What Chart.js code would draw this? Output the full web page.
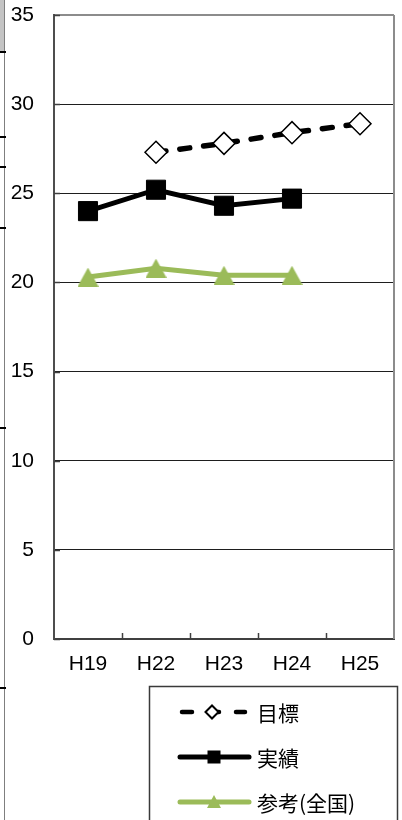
<!DOCTYPE html>
<html>
<head>
<meta charset="utf-8">
<script src="https://cdn.jsdelivr.net/npm/chart.js@4/dist/chart.umd.min.js"></script>
<style>
  html, body { margin: 0; padding: 0; background: #fff; }
  canvas { display: block; }
</style>
</head>
<body>
<canvas id="chart" width="402" height="820"></canvas>
<script>
// Categories (fiscal years) and series values
const categories = ['H19', 'H22', 'H23', 'H24', 'H25'];
const targetValues = [null, 27.3, 27.8, 28.4, 28.9];   // 目標
const actualValues = [24.0, 25.2, 24.3, 24.7, null];   // 実績
const nationalValues = [20.3, 20.8, 20.4, 20.4, null]; // 参考(全国)
const seriesNames = ['目標', '実績', '参考(全国)'];
const yTickValues = [0, 5, 10, 15, 20, 25, 30, 35];

const GREEN = '#9bbb59';
const LATIN_FONT = "'Liberation Sans', Arial, sans-serif";
const CJK_FONT = "'Noto Sans CJK JP', 'Liberation Sans', sans-serif";

// Triangle marker whose bounding box is centred on the data point
function triangleMarker(w, h, color) {
  const c = document.createElement('canvas');
  c.width = w; c.height = h;
  const g = c.getContext('2d');
  g.fillStyle = color;
  g.beginPath();
  g.moveTo(w / 2, 0);
  g.lineTo(w, h);
  g.lineTo(0, h);
  g.closePath();
  g.fill();
  return c;
}

// Thin strip along the left page edge with its small tick marks
const pageEdge = {
  id: 'pageEdge',
  beforeDraw(chart) {
    const ctx = chart.ctx;
    ctx.save();
    ctx.fillStyle = '#c4c4c4';
    ctx.fillRect(0, 0, 4, 52);
    ctx.strokeStyle = '#7f7f7f';
    ctx.lineWidth = 1;
    ctx.beginPath();
    ctx.moveTo(4.5, 0);
    ctx.lineTo(4.5, 820);
    ctx.stroke();
    ctx.strokeStyle = '#000';
    ctx.lineWidth = 2;
    [52, 137, 167, 228, 428, 688].forEach(y => {
      ctx.beginPath();
      ctx.moveTo(0, y);
      ctx.lineTo(6, y);
      ctx.stroke();
    });
    ctx.restore();
  }
};

// Plot frame: right border and inward tick marks on both axes
const plotFrame = {
  id: 'plotFrame',
  beforeDatasetsDraw(chart) {
    const { ctx, chartArea: a, scales } = chart;
    ctx.save();
    ctx.strokeStyle = '#8c8c8c';
    ctx.lineWidth = 2;
    ctx.beginPath();
    ctx.moveTo(a.right, a.top);
    ctx.lineTo(a.right, a.bottom);
    ctx.stroke();

    ctx.strokeStyle = '#404040';
    ctx.lineWidth = 1.5;
    yTickValues.forEach(v => {
      const y = Math.round(scales.y.getPixelForValue(v)) + 0.5;
      ctx.beginPath();
      ctx.moveTo(a.left, y);
      ctx.lineTo(a.left + 6, y);
      ctx.stroke();
    });
    for (let i = 1; i < categories.length; i++) {
      const x = Math.round((scales.x.getPixelForValue(i - 1) + scales.x.getPixelForValue(i)) / 2) + 0.5;
      ctx.beginPath();
      ctx.moveTo(x, a.bottom);
      ctx.lineTo(x, a.bottom - 6);
      ctx.stroke();
    }
    ctx.restore();
  }
};

// Boxed legend below the plot
const boxLegend = {
  id: 'boxLegend',
  afterDraw(chart) {
    const ctx = chart.ctx;
    ctx.save();
    ctx.strokeStyle = '#3a3a3a';
    ctx.lineWidth = 1.5;
    ctx.strokeRect(149.5, 686.5, 248, 200);

    const x0 = 180, x1 = 249, mx = 214, tx = 257;
    const rows = [712, 757, 802];

    // 目標
    ctx.strokeStyle = '#000';
    ctx.lineWidth = 4.5;
    ctx.lineCap = 'round';
    ctx.setLineDash([10, 17]);
    ctx.beginPath();
    ctx.moveTo(x0 + 2, rows[0]);
    ctx.lineTo(x1 - 4, rows[0]);
    ctx.stroke();
    ctx.setLineDash([]);
    ctx.lineCap = 'butt';
    ctx.fillStyle = '#fff';
    ctx.lineWidth = 2;
    ctx.beginPath();
    ctx.moveTo(mx - 2 - 6.5, rows[0]);
    ctx.lineTo(mx - 2, rows[0] - 6.5);
    ctx.lineTo(mx - 2 + 6.5, rows[0]);
    ctx.lineTo(mx - 2, rows[0] + 6.5);
    ctx.closePath();
    ctx.fill();
    ctx.stroke();

    // 実績
    ctx.strokeStyle = '#000';
    ctx.lineWidth = 5;
    ctx.lineCap = 'round';
    ctx.beginPath();
    ctx.moveTo(x0, rows[1]);
    ctx.lineTo(x1, rows[1]);
    ctx.stroke();
    ctx.fillStyle = '#000';
    ctx.fillRect(mx - 6.5, rows[1] - 6.5, 13, 13);

    // 参考(全国)
    ctx.strokeStyle = GREEN;
    ctx.beginPath();
    ctx.moveTo(x0, rows[2]);
    ctx.lineTo(x1, rows[2]);
    ctx.stroke();
    ctx.fillStyle = GREEN;
    ctx.beginPath();
    ctx.moveTo(mx, rows[2] - 7);
    ctx.lineTo(mx + 7, rows[2] + 6);
    ctx.lineTo(mx - 7, rows[2] + 6);
    ctx.closePath();
    ctx.fill();

    ctx.fillStyle = '#000';
    ctx.font = '21px ' + CJK_FONT;
    ctx.textAlign = 'left';
    ctx.textBaseline = 'middle';
    seriesNames.forEach((name, i) => ctx.fillText(name, tx, rows[i] + 1));
    ctx.restore();
  }
};

new Chart(document.getElementById('chart'), {
  type: 'line',
  data: {
    labels: categories,
    datasets: [
      {
        label: seriesNames[0],
        data: targetValues,
        borderColor: '#000',
        borderWidth: 5.5,
        borderDash: [10, 14],
        borderCapStyle: 'round',
        pointStyle: 'rectRot',
        pointRadius: 11,
        pointBorderWidth: 1.5,
        pointBackgroundColor: '#fff',
        pointBorderColor: '#000',
        tension: 0
      },
      {
        label: seriesNames[1],
        data: actualValues,
        borderColor: '#000',
        borderWidth: 5,
        pointStyle: 'rect',
        pointRadius: 13.5,
        pointBorderWidth: 1,
        pointBackgroundColor: '#000',
        pointBorderColor: '#000',
        tension: 0
      },
      {
        label: seriesNames[2],
        data: nationalValues,
        borderColor: GREEN,
        borderWidth: 5,
        pointStyle: triangleMarker(21, 19, GREEN),
        pointRadius: 10,
        tension: 0
      }
    ]
  },
  options: {
    responsive: false,
    animation: false,
    events: [],
    layout: { autoPadding: false, padding: { left: 0, top: 15, right: 8, bottom: 0 } },
    plugins: { legend: { display: false }, tooltip: { enabled: false } },
    scales: {
      x: {
        type: 'category',
        offset: true,
        grid: { display: false, drawTicks: false },
        border: { display: true, color: '#404040', width: 2 },
        ticks: { color: '#000', font: { size: 21, family: LATIN_FONT }, padding: 13, maxRotation: 0 },
        afterFit(scale) {
          scale.height = 181;
          scale.paddingLeft = 0;
          scale.paddingRight = 0;
        }
      },
      y: {
        min: 0,
        max: 35,
        afterBuildTicks(scale) { scale.ticks = yTickValues.map(v => ({ value: v })); },
        grid: {
          drawTicks: false,
          color: ctx => (ctx.tick && ctx.tick.value === 35 ? '#8c8c8c' : '#1e1e1e'),
          lineWidth: ctx => (ctx.tick && ctx.tick.value === 35 ? 2 : 1)
        },
        border: { display: true, color: '#4d4d4d', width: 2 },
        ticks: { color: '#000', font: { size: 21, family: LATIN_FONT }, padding: 20 },
        afterFit(scale) {
          scale.width = 54;
          scale.paddingTop = 0;
          scale.paddingBottom = 0;
        }
      }
    }
  },
  plugins: [pageEdge, plotFrame, boxLegend]
});
</script>
</body>
</html>
